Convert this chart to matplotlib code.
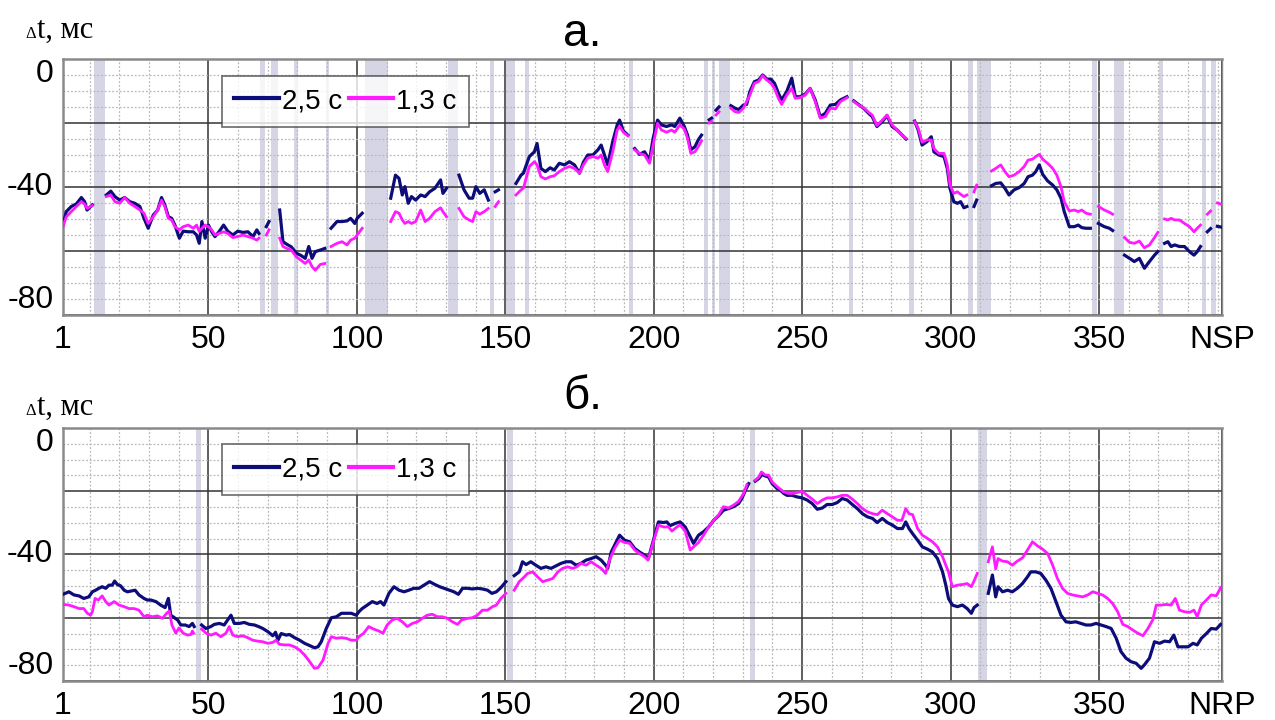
import numpy as np
import matplotlib
matplotlib.use('Agg')
import matplotlib.pyplot as plt
from matplotlib.ticker import MultipleLocator

nan = np.nan

# --- панель а: по NSP (общая ось x для обеих кривых, nan = разрыв) ---
a_x = [1.0, 2.1, 3.8, 5.5, 7.2, 8.3, 9.1, 10.9, 13.0,
       15.6, 17.1, 18.5, 20.1, 21.8, 23.5, 25.2, 26.9, 28.3, 29.7,
       31.4, 32.9, 34.2, 35.3, 36.5, 37.6, 38.7, 40.2, 41.5, 43.2,
       44.9, 46.0, 46.9, 47.8, 48.9, 50.0, 51.1, 52.2, 53.7, 55.1,
       56.5, 58.2, 59.9, 61.6, 63.3, 65.0, 66.3, 67.0, 68.2,
       69.5, 70.4, 72.3,
       74.0, 75.1, 76.4, 77.9, 79.6, 81.0, 82.6, 83.8, 84.9, 86.0, 87.7, 89.2, 90.0,
       91.3, 93.3, 95.0, 96.7, 97.9, 99.3, 100.1, 101.8, 106.0,
       111.4, 113.0, 114.2, 115.3, 116.2, 117.3, 118.4, 119.8, 121.5, 123.0,
       124.5, 126.3, 128.2, 129.0, 130.2, 132.5,
       134.4, 136.1, 137.8, 139.0, 140.1, 141.4, 142.9, 144.3, 145.5,
       146.6, 147.7, 151.8,
       153.6, 155.3, 156.1, 158.1, 159.8, 160.7, 162.0, 163.5, 165.1, 166.5,
       168.2, 169.9, 171.6, 173.3, 175.0, 176.3, 177.8, 179.5, 181.2, 182.3,
       183.4, 184.5, 186.2, 187.7, 188.5, 189.8, 191.3, 192.3,
       193.6, 195.2, 196.9, 198.6, 199.8, 201.3, 202.6, 204.3, 206.0, 207.1,
       208.8, 210.3, 211.4, 212.5, 213.9, 215.0, 216.1, 217.7,
       218.7, 219.5, 220.2,
       221.0, 222.0, 224.0,
       226.0, 227.4, 228.7, 230.2, 231.3, 232.4, 233.9, 235.3, 236.7, 238.1,
       239.5, 240.7, 242.0, 243.1, 244.8, 246.5, 247.7, 249.3, 251.0, 252.7,
       254.4, 256.1, 257.8, 259.5, 261.2, 262.9, 265.1, 266.4,
       267.4, 269.0, 270.7, 272.4, 273.6, 275.2, 277.0, 278.6, 280.3, 282.0, 283.7, 285.0, 286.7,
       287.9, 289.1, 290.4, 292.1, 293.5, 294.4, 296.0, 297.8, 298.9, 299.8,
       301.1, 302.3, 303.4, 304.5, 305.5, 306.8,
       307.9, 308.8, 311.0,
       313.8, 315.2, 316.9, 318.3, 319.7, 321.4, 323.1, 324.8, 326.1, 327.6,
       328.7, 329.9, 331.0, 332.7, 334.4, 335.8, 337.2, 338.3, 340.0, 341.7,
       343.0, 344.2, 345.6, 347.1, 348.4,
       349.8, 351.8, 353.5, 354.6, 356.6,
       358.6, 360.3, 361.9, 363.6, 365.3, 367.0, 368.7, 369.8, 370.8,
       372.1, 373.2, 374.3, 375.5, 377.1, 378.8, 380.5, 382.0, 383.1, 384.2, 385.5,
       386.5, 387.6, 388.6,
       389.9, 391.6]

a_25 = [-51.9, -47.7, -46.1, -45.3, -43.3, -44.6, -47.2, -45.6, nan,
        -42.5, -41.3, -43.0, -44.1, -43.3, -44.6, -45.1, -46.1, -49.8, -52.9,
        -48.8, -47.2, -43.3, -45.6, -49.3, -49.8, -51.9, -56.0, -53.8, -54.0,
        -54.0, -55.0, -57.6, -50.8, -56.0, -51.9, -54.0, -55.5, -53.8, -51.9,
        -53.8, -55.0, -53.8, -54.2, -54.0, -55.5, -53.4, -54.5, nan,
        -52.4, -50.8, nan,
        -47.2, -57.1, -57.9, -58.7, -60.7, -61.3, -62.3, -58.6, -62.3, -60.2, -59.7, -59.2, nan,
        -52.9, -50.8, -50.8, -50.6, -49.8, -51.4, -49.8, -48.2, nan,
        -43.5, -36.3, -37.3, -42.5, -39.9, -45.1, -43.0, -44.1, -42.5, -43.0,
        -41.5, -40.4, -37.8, -42.0, -40.4, nan,
        -36.3, -40.9, -43.5, -43.5, -39.9, -42.0, -40.9, -44.1, nan,
        -41.5, -40.9, nan,
        -38.9, -36.3, -35.7, -30.5, -29.0, -26.4, -34.2, -35.2, -34.0, -34.7,
        -32.6, -33.1, -32.1, -33.1, -35.7, -32.3, -30.0, -30.0, -28.4, -26.9,
        -30.0, -33.1, -25.8, -20.6, -19.1, -22.5, -23.8, nan,
        -28.0, -29.8, -29.0, -31.6, -24.8, -19.1, -20.6, -21.1, -20.6, -21.1,
        -18.5, -21.1, -23.8, -28.4, -27.4, -25.3, -23.8, nan,
        -19.0, -18.5, nan,
        -16.0, -15.0, nan,
        -14.6, -15.4, -15.8, -14.4, -14.2, -10.2, -7.1, -6.6, -5.0, -6.3,
        -6.3, -7.6, -10.7, -12.8, -10.2, -6.0, -11.8, -11.8, -11.0, -9.2,
        -12.8, -18.0, -17.0, -14.4, -14.2, -12.8, -11.8, nan,
        -13.1, -14.2, -15.4, -17.0, -18.0, -21.1, -19.6, -17.7, -21.1, -22.2, -23.8, -25.0, nan,
        -19.4, -22.2, -26.9, -25.8, -24.3, -29.0, -30.0, -30.5, -34.2, -40.4,
        -44.6, -45.1, -44.6, -46.5, -46.1, nan,
        -46.1, -44.1, nan,
        -39.6, -38.9, -38.7, -40.4, -42.5, -40.9, -40.2, -38.9, -36.8, -36.3,
        -35.2, -33.1, -36.0, -38.1, -39.4, -40.9, -43.5, -47.7, -52.4, -52.4,
        -51.9, -52.7, -52.9, -52.9, nan,
        -51.4, -52.4, -52.9, -53.6, nan,
        -61.3, -62.3, -63.3, -62.3, -65.4, -63.3, -61.3, -60.2, nan,
        -57.6, -57.1, -58.6, -58.1, -58.6, -58.6, -60.2, -61.3, -60.2, -58.6, nan,
        -54.0, -53.0, nan,
        -52.3, -52.6]

a_13 = [-52.4, -49.3, -47.7, -46.1, -44.6, -45.4, -46.7, -45.8, nan,
        -43.0, -42.5, -44.6, -45.1, -43.3, -45.1, -46.1, -47.2, -48.2, -51.4,
        -49.3, -47.2, -44.1, -46.1, -49.8, -50.3, -52.4, -53.4, -52.4, -51.9,
        -52.9, -51.9, -53.9, -52.9, -51.9, -52.4, -53.4, -55.0, -54.5, -54.0,
        -54.5, -55.8, -55.5, -55.0, -55.5, -56.0, -56.6, -56.0, nan,
        -55.0, -53.4, nan,
        -56.0, -58.6, -59.2, -59.7, -61.8, -62.8, -63.9, -62.8, -64.9, -66.0, -64.2, -63.9, nan,
        -58.6, -57.6, -57.1, -58.1, -56.6, -56.0, -55.0, -52.9, nan,
        -50.8, -47.7, -48.2, -50.3, -51.4, -50.8, -51.4, -50.8, -47.2, -50.8,
        -49.8, -47.7, -46.5, -47.7, -49.3, nan,
        -46.7, -49.3, -50.3, -50.8, -47.7, -48.5, -47.7, -46.7, nan,
        -46.1, -44.6, nan,
        -42.5, -40.9, -40.4, -33.6, -32.1, -33.1, -36.8, -37.5, -36.8, -36.5,
        -35.2, -34.2, -33.6, -34.2, -35.7, -33.1, -31.0, -30.5, -31.0, -30.0,
        -33.1, -35.2, -29.0, -22.2, -21.1, -22.9, -24.0, nan,
        -28.4, -29.5, -30.0, -32.6, -26.9, -20.1, -22.2, -22.9, -22.2, -22.9,
        -20.6, -21.9, -24.8, -29.5, -29.0, -27.4, -25.6, nan,
        -20.0, -19.5, nan,
        -17.5, -16.5, nan,
        -15.4, -16.5, -16.7, -15.4, -13.3, -11.3, -7.6, -7.1, -5.2, -6.6,
        -7.6, -9.2, -12.3, -14.2, -11.3, -9.2, -12.3, -12.1, -11.3, -9.2,
        -13.3, -18.5, -18.0, -15.4, -15.6, -13.3, -12.1, nan,
        -13.3, -14.4, -15.2, -16.7, -17.5, -20.8, -19.1, -17.5, -20.6, -22.2, -23.8, -24.8, nan,
        -19.6, -21.7, -26.0, -25.3, -25.3, -28.0, -29.5, -29.5, -33.0, -39.4,
        -42.0, -41.5, -42.3, -43.0, -42.5, nan,
        -41.5, -39.4, nan,
        -35.0, -34.2, -33.1, -35.2, -36.8, -36.3, -35.2, -33.6, -31.6, -31.3,
        -30.5, -29.8, -31.3, -32.6, -34.2, -36.3, -39.9, -44.6, -47.5, -47.2,
        -47.7, -47.2, -48.2, -48.5, nan,
        -46.1, -47.2, -47.9, -48.5, nan,
        -55.8, -57.3, -57.6, -56.9, -59.0, -58.1, -55.8, -54.2, nan,
        -50.0, -50.3, -49.8, -50.3, -50.3, -51.4, -52.4, -54.0, -52.9, -51.9, nan,
        -48.5, -47.5, nan,
        -45.0, -45.5]

a_bands = [(11.5, 15.3), (67.4, 68.9), (71.0, 73.6), (78.7, 80.1), (89.5, 90.5),
           (102.6, 110.6), (130.7, 134.2), (144.8, 146.1), (150.4, 153.2),
           (156.7, 157.9), (191.6, 193.0), (217.0, 218.4), (219.7, 220.6),
           (222.1, 225.7), (265.7, 267.1), (285.9, 287.6), (306.0, 307.7),
           (309.0, 313.5), (347.5, 349.3), (355.0, 358.3), (370.2, 371.5),
           (384.8, 386.2), (387.8, 389.3), (391.0, 391.6)]

# --- панель б: по NRP ---
b25_x = [1.0, 3.0, 4.7, 6.4, 8.0, 9.7, 10.9, 12.0, 13.1, 14.2, 15.4, 16.5,
         17.6, 18.4, 19.3, 20.4, 21.6, 22.7, 23.8, 25.3, 26.6, 28.3, 29.4,
         30.6, 32.3, 33.9, 35.4, 36.5, 37.3, 38.5, 39.6, 40.7, 42.2, 43.5,
         44.6, 45.2, 46.5,
         47.7, 49.1, 50.8, 52.0, 53.7, 55.3, 56.5, 57.6, 58.7, 60.4, 62.1,
         63.8, 65.5, 66.9, 68.3, 70.0, 71.7, 72.6, 73.4, 74.5, 76.2, 77.3,
         79.0, 80.7, 82.4, 84.1, 85.7, 86.9, 88.0, 89.7, 91.4, 93.1, 94.8,
         96.4, 98.1, 99.8, 100.7, 101.8, 103.5, 105.2, 106.8, 108.0, 109.1,
         110.8, 112.5, 114.2, 115.9, 117.5, 119.2, 120.9, 122.6, 124.5, 126.3,
         127.9, 129.4, 131.1, 132.7, 134.2, 135.6, 137.3, 138.9, 140.6, 142.3,
         144.0, 145.5, 147.0, 148.5, 150.2, 151.5,
         153.0, 154.7, 155.8, 157.0, 158.6, 160.3, 162.0, 163.7, 165.4, 167.1,
         168.8, 170.5, 172.2, 173.9, 175.5, 177.2, 178.9, 180.6, 182.3, 183.8,
         184.5, 185.7, 187.4, 188.5, 190.2, 191.9, 193.6, 195.2, 196.9, 198.2,
         199.9, 201.6, 203.3, 204.4, 205.5, 207.2, 208.9, 210.6, 212.3, 213.4,
         215.1, 216.8, 218.5, 220.2, 221.8, 223.5, 225.2, 226.9, 228.6, 229.7,
         230.9, 232.0, 233.1,
         234.2, 235.4, 236.5, 237.6, 238.7, 239.9, 241.6, 242.7, 243.8, 244.9,
         246.6, 248.3, 250.0, 251.7, 253.4, 255.1, 256.8, 258.4, 260.1, 261.8,
         263.5, 265.2, 266.9, 268.6, 270.3, 272.0, 273.7, 275.3, 277.0, 278.7,
         280.4, 282.1, 283.8, 284.9, 286.0, 287.2, 288.9, 290.5, 292.2, 293.9,
         295.6, 297.3, 298.4, 299.3, 300.6, 302.3, 304.0, 305.6, 307.0, 307.9,
         309.0, 310.8,
         312.7, 314.1, 315.2, 316.0, 317.5, 319.2, 320.8, 322.5, 324.2, 325.9,
         327.0, 328.7, 330.4, 332.1, 333.8, 335.5, 337.2, 338.9, 340.5, 342.2,
         343.9, 345.6, 347.3, 349.0, 350.7, 352.4, 354.1, 355.8, 357.4, 359.1,
         360.8, 362.5, 364.2, 365.3, 367.0, 368.7, 370.4, 372.1, 373.8, 375.2,
         376.6, 378.3, 380.0, 381.7, 383.1, 384.5, 386.2, 387.8, 389.5, 391.0]

b25 = [-52.6, -51.8, -52.8, -53.1, -53.9, -53.4, -51.8, -51.3, -50.7, -50.2, -50.7, -49.7,
       -49.7, -48.4, -49.5, -49.9, -51.3, -51.8, -51.6, -51.3, -52.8, -53.9, -54.4,
       -54.4, -54.9, -56.0, -56.8, -53.9, -59.2, -60.0, -60.7, -62.3, -62.3, -62.8,
       -61.8, -62.8, nan,
       -62.3, -63.4, -62.8, -62.1, -61.8, -62.3, -60.7, -59.2, -61.8, -61.8, -61.5,
       -62.1, -62.3, -62.8, -63.4, -64.4, -65.7, -64.6, -67.1, -65.0, -65.5, -65.3,
       -66.3, -67.1, -68.1, -68.8, -69.5, -69.2, -67.6, -63.4, -60.0, -59.7, -58.6,
       -58.6, -58.6, -59.2, -58.1, -57.1, -56.0, -54.9, -55.5, -54.9, -56.0,
       -52.3, -50.2, -51.3, -51.8, -51.3, -50.7, -50.7, -49.7, -48.6, -49.5,
       -50.2, -50.7, -51.3, -51.8, -52.6, -50.7, -50.7, -50.9, -50.7, -50.9,
       -51.3, -52.3, -51.8, -50.5, -48.6, nan,
       -46.7, -45.5, -42.3, -43.2, -42.3, -43.4, -44.4, -43.9, -44.4, -43.6,
       -42.8, -42.3, -42.3, -43.4, -42.8, -41.8, -41.3, -40.7, -41.8, -43.4,
       -44.4, -39.2, -36.0, -33.9, -35.5, -36.0, -38.1, -39.2, -40.2, -41.3,
       -35.5, -29.7, -29.9, -29.7, -30.9, -30.2, -29.7, -31.3, -34.4, -36.5,
       -33.9, -32.8, -31.3, -29.2, -27.8, -26.0, -25.5, -24.9, -23.9, -22.3,
       -19.7, -17.6, nan,
       -16.8, -16.0, -14.7, -15.2, -15.5, -17.6, -19.2, -19.7, -20.7, -21.3,
       -21.3, -21.8, -22.1, -22.8, -23.9, -25.7, -25.3, -24.2, -24.2, -23.6,
       -22.3, -22.8, -24.2, -25.5, -27.1, -28.1, -28.6, -29.9, -28.6, -29.9,
       -30.7, -31.8, -31.8, -29.7, -31.8, -33.4, -35.5, -37.6, -38.3, -39.2,
       -41.3, -45.5, -49.7, -53.9, -56.0, -56.5, -56.0, -57.1, -58.6, -56.8,
       -56.0, nan,
       -52.3, -46.5, -53.4, -50.2, -51.8, -51.3, -51.8, -50.7, -49.2, -47.1,
       -45.5, -45.5, -46.0, -48.1, -50.7, -54.9, -59.2, -61.3, -61.5, -61.3,
       -61.8, -62.3, -62.3, -61.8, -62.3, -62.8, -63.4, -66.5, -70.7, -72.8,
       -73.9, -74.4, -76.0, -74.9, -72.8, -67.6, -68.1, -67.4, -67.6, -65.5,
       -69.2, -69.2, -69.2, -68.1, -68.6, -66.5, -65.0, -63.4, -63.6, -62.1]

b13_x = [1.0, 3.0, 4.7, 6.4, 8.0, 9.2, 10.3, 10.9, 11.8, 12.9, 14.2, 15.4,
         16.5, 18.2, 19.9, 21.6, 23.2, 24.9, 26.6, 28.3, 29.4, 31.1, 32.8,
         34.5, 35.9, 36.8, 37.7, 39.0, 40.1, 41.5, 43.0, 44.1, 44.6, 45.0, 46.5,
         47.7, 49.2, 50.8, 52.5, 54.2, 55.9, 57.0, 58.2, 59.9, 61.5, 63.2,
         64.9, 66.6, 68.3, 70.0, 71.7, 72.8, 73.9, 75.6, 77.3, 79.0, 80.7,
         82.4, 84.1, 85.7, 86.9, 88.6, 90.3, 91.4, 93.1, 94.8, 96.4, 98.1,
         99.8, 100.7, 102.3, 104.0, 105.7, 107.4, 108.8, 110.2, 111.9, 113.6,
         115.3, 117.0, 118.7, 120.4, 122.0, 123.7, 125.4, 127.1, 128.8, 130.5,
         132.2, 133.9, 135.3, 137.3, 138.9, 140.6, 142.3, 144.0, 145.7, 147.0,
         148.5, 150.2, 151.5,
         153.0, 154.7, 156.4, 157.5, 159.2, 160.9, 162.6, 164.3, 166.0, 167.7,
         169.3, 171.0, 172.7, 174.1, 175.5, 177.2, 178.9, 180.6, 182.3, 183.8,
         185.1, 186.8, 188.5, 190.2, 191.9, 193.6, 195.2, 196.9, 198.1, 199.9,
         201.6, 203.3, 205.0, 206.1, 207.8, 208.9, 210.6, 212.3, 213.4, 215.1,
         216.8, 218.5, 220.2, 221.8, 223.5, 225.2, 226.9, 228.6, 230.3, 231.4, 233.1,
         234.2, 235.4, 236.3, 237.6, 238.7, 239.9, 241.6, 242.7, 243.8, 245.3,
         246.6, 248.3, 250.0, 251.7, 253.4, 255.1, 256.8, 258.4, 260.1, 261.8,
         263.5, 265.2, 266.9, 268.6, 270.3, 272.0, 273.7, 275.3, 277.0, 278.7,
         280.4, 282.1, 283.6, 284.9, 286.0, 287.2, 288.9, 290.5, 292.2, 293.9,
         295.6, 297.3, 298.4, 299.3, 300.6, 302.3, 304.0, 305.6, 307.0, 307.9,
         309.0, 310.8,
         312.7, 314.1, 315.2, 316.0, 317.5, 319.2, 320.8, 322.5, 324.2, 325.9,
         327.6, 329.3, 331.0, 332.7, 334.4, 336.0, 337.7, 339.4, 341.1, 342.8,
         344.5, 346.2, 347.9, 349.6, 351.2, 352.9, 354.6, 356.3, 358.0, 359.7,
         361.4, 363.1, 364.8, 366.5, 368.1, 369.3, 371.0, 372.6, 374.3, 375.7,
         377.1, 378.8, 380.5, 382.0, 383.1, 384.5, 386.2, 387.8, 389.5, 391.0]

b13 = [-55.8, -56.0, -56.5, -57.1, -57.1, -58.6, -59.2, -58.1, -53.9, -54.4, -53.1, -54.9,
       -56.0, -54.9, -56.0, -56.5, -57.1, -57.1, -57.6, -59.7, -59.2, -59.7, -59.4,
       -60.2, -58.6, -57.9, -62.3, -64.9, -63.2, -64.9, -65.5, -65.3, -64.2, -64.9, nan,
       -63.6, -64.9, -65.5, -64.9, -66.0, -64.9, -62.8, -65.5, -66.0, -65.7, -66.3,
       -67.1, -67.4, -67.6, -68.1, -67.8, -67.1, -68.4, -68.6, -68.6, -69.2, -70.2,
       -71.8, -73.9, -76.0, -75.8, -73.4, -68.1, -66.0, -66.5, -66.3, -66.5, -67.1,
       -67.1, -66.0, -64.9, -62.8, -63.6, -64.2, -64.9, -62.3, -60.7, -60.2,
       -61.3, -62.8, -61.8, -61.3, -60.2, -59.2, -58.9, -59.7, -59.7, -60.2,
       -61.3, -62.1, -60.7, -60.2, -60.0, -59.2, -57.6, -57.6, -56.5, -56.0,
       -53.9, -52.3, nan,
       -51.3, -48.6, -47.1, -46.0, -45.5, -47.1, -48.6, -48.1, -47.6, -45.5,
       -44.4, -43.9, -44.4, -43.9, -42.8, -43.4, -42.3, -43.4, -44.4, -46.0,
       -41.8, -38.1, -35.5, -36.2, -36.5, -38.6, -39.7, -40.7, -41.8, -36.0,
       -30.7, -31.3, -31.3, -32.6, -31.3, -30.7, -32.6, -38.6, -37.6, -36.2,
       -33.9, -31.3, -29.2, -27.6, -24.9, -25.3, -24.4, -23.2, -20.7, -17.9, nan,
       -16.5, -15.5, -13.9, -14.9, -14.9, -17.1, -18.6, -19.4, -20.2, -20.7,
       -20.7, -20.4, -20.0, -21.3, -22.5, -23.9, -22.8, -22.1, -22.1, -21.8,
       -21.3, -21.3, -22.5, -23.9, -25.5, -26.5, -27.1, -27.4, -26.0, -27.1,
       -28.1, -29.2, -29.2, -25.5, -27.1, -27.4, -31.8, -33.9, -34.9, -36.0,
       -37.6, -40.7, -43.4, -45.5, -50.2, -49.7, -49.5, -49.2, -50.2, -48.4,
       -46.0, nan,
       -42.3, -37.6, -44.6, -41.3, -42.1, -42.3, -43.4, -42.1, -41.1, -38.6,
       -36.0, -37.3, -38.3, -39.7, -43.4, -47.6, -50.7, -52.3, -52.8, -53.1,
       -53.4, -52.8, -51.8, -52.3, -52.8, -53.9, -55.5, -58.1, -62.1, -62.8,
       -63.9, -64.9, -65.7, -63.4, -60.7, -56.0, -56.0, -55.8, -56.0, -53.9,
       -57.6, -58.1, -58.3, -57.6, -59.7, -56.0, -54.4, -52.8, -53.1, -50.5]

b_bands = [(45.8, 47.5), (150.5, 152.5), (232.3, 234.0), (309.2, 312.4)]

x_ticks = [1, 50, 100, 150, 200, 250, 300, 350]
x_max = 391.6
legend_labels = ['2,5 с', '1,3 с']

NAVY = '#0d0d7a'
MAGENTA = '#ff1aff'
BAND = '#d5d5e6'
SANS = ['Liberation Sans', 'DejaVu Sans']
SERIF = ['Liberation Serif', 'DejaVu Serif']

fig = plt.figure(figsize=(12.75, 7.2), dpi=100)
ax_a = fig.add_axes([0.0494, 0.5625, 0.9094, 0.3556])
ax_b = fig.add_axes([0.0494, 0.0542, 0.9094, 0.3514])


def draw_panel(ax, x25, y25, x13, y13, bands, end_label):
    for lo, hi in bands:
        ax.axvspan(lo, hi, color=BAND, lw=0, zorder=0.2)
    l1, = ax.plot(x25, y25, color=NAVY, lw=2.3, zorder=3)
    l2, = ax.plot(x13, y13, color=MAGENTA, lw=2.0, zorder=4)
    ax.set_xlim(1, x_max)
    ax.set_ylim(-80, 0)
    ax.xaxis.set_minor_locator(MultipleLocator(10))
    ax.yaxis.set_minor_locator(MultipleLocator(5))
    ax.set_yticks([0, -20, -40, -60, -80])
    ax.set_yticklabels(['0', '', '-40', '', '-80'])
    ax.set_xticks(x_ticks + [x_max])
    ax.set_xticklabels([str(t) for t in x_ticks] + [end_label])
    ax.set_axisbelow(True)
    ax.grid(which='major', color='#333333', lw=1.1)
    ax.grid(which='minor', color='#b8b8b8', lw=0.9, ls=(0, (1.5, 1.5)))
    ax.tick_params(which='both', length=0)
    ax.tick_params(axis='x', pad=7)
    ax.tick_params(axis='y', pad=7)
    for lab in ax.get_xticklabels() + ax.get_yticklabels():
        lab.set_family(SANS)
        lab.set_fontsize(23)
    ylabs = ax.get_yticklabels()
    ylabs[0].set_va('top')
    ylabs[2].set_va('center')
    ylabs[4].set_va('bottom')
    for s in ax.spines.values():
        s.set_color('#8a8a8a')
        s.set_linewidth(1.8)
    ax.spines['right'].set_linewidth(1.0)
    leg = ax.legend([l1, l2], legend_labels, ncol=2, loc='upper left',
                    bbox_to_anchor=(0.137, 0.935), frameon=True, fancybox=False,
                    handlelength=1.6, handletextpad=0.1, columnspacing=0.25,
                    borderpad=0.45, borderaxespad=0,
                    prop={'family': SANS, 'size': 20})
    leg.get_frame().set_edgecolor('#444444')
    leg.get_frame().set_linewidth(1.2)
    for h in leg.get_lines():
        h.set_linewidth(3.0)


draw_panel(ax_a, a_x, a_25, a_x, a_13, a_bands, 'NSP')
draw_panel(ax_b, b25_x, b25, b13_x, b13, b_bands, 'NRP')

fig.text(0.457, 0.953, 'а.', fontsize=33, family=SANS, ha='center', va='center')
fig.text(0.457, 0.449, 'б.', fontsize=33, family=SANS, ha='center', va='center')
for yb in (0.947, 0.424):
    fig.text(0.020, yb, 'Δ', fontsize=12, family=SERIF, ha='left', va='baseline')
    fig.text(0.029, yb, 't, мс', fontsize=22, family=SERIF, ha='left', va='baseline')

fig.savefig('out.png', dpi=100)
